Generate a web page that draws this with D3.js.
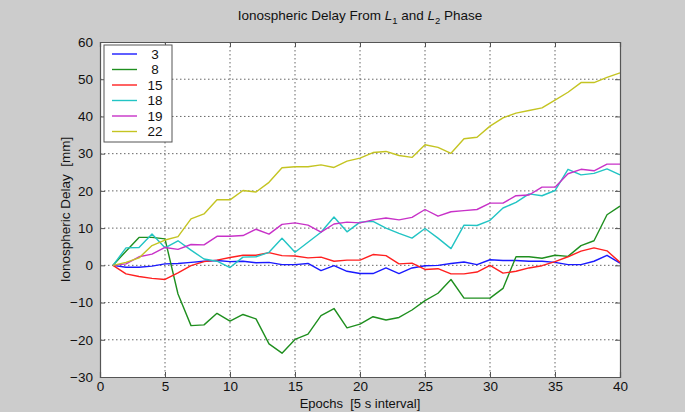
<!DOCTYPE html>
<html lang="en">
<head>
  <meta charset="UTF-8">
  <title>Ionospheric Delay From L1 and L2 Phase</title>
  <style>
    body { margin: 0; background: #cccccc; }
    text { font-family: "Liberation Sans", Arial, sans-serif; fill: #111; }
  </style>
</head>
<body>
  <svg id="chart" width="685" height="412"></svg>

  <script src="https://d3js.org/d3.v7.min.js"></script>
  <script>
    // Epoch numbers (x)
    const epochs = d3.range(1, 41)

    // Satellite ids and delays [mm]
    const satellites = ['3', '8', '15', '18', '19', '22']
    const sat3 = [0, -0.5, -0.5, -0.2, 0.4, 0.5, 0.8, 1.1, 1.3, 1, 1.1, 0.7, 0.8, 0.2, 0.2, 0.5, -1.4, -0.1, -1.6, -2.2,
      -2.2, -0.7, -2.2, -0.7, -0.1, 0, 0.5, 0.9, 0.2, 1.5, 1.3, 1.3, 1.1, 1.1, 0.8, 0.2, 0.2, 1.1, 2.7, 0.6]
    const sat8 = [0, 3.8, 7.5, 7.5, 7.1, -7.7, -16.2, -16, -12.9, -15, -13.2, -14.4, -21.1, -23.6, -19.9, -18.5, -13.5, -11.6, -16.8, -15.8,
      -13.8, -14.7, -14, -12, -9.5, -7.5, -3.8, -8.8, -8.8, -8.8, -6.2, 2.3, 2.3, 1.9, 2.7, 2.4, 5.3, 6.6, 13.6, 15.9]
    const sat15 = [0, -2.3, -3, -3.5, -3.8, -2, -0.1, 1, 1.4, 2.1, 2.7, 2.7, 3.4, 2.6, 2.5, 2, 2.2, 1.1, 1.4, 1.4,
      2.9, 2.6, 0.4, 0.6, -1.1, -0.9, -2.3, -2.3, -1.8, 0, -2.1, -1.6, -0.7, -0.1, 1, 2.3, 3.8, 4.7, 3.9, 0.8]
    const sat18 = [0, 4.7, 4.8, 8.4, 4.7, 6.6, 4.1, 1.7, 1.1, -0.6, 2.2, 2.3, 3.5, 7.3, 3.5, 6.2, 8.9, 13, 9, 11.6,
      11.8, 10, 8.6, 7.3, 9.9, 7.3, 4.5, 10.8, 10.7, 12.1, 15.4, 16.9, 19.2, 18.7, 20.1, 25.8, 24.3, 24.7, 25.9, 24.3]
    const sat19 = [0, 0.4, 2.3, 3, 4.8, 4.3, 5.6, 5.5, 7.8, 7.8, 8, 9.7, 8.4, 11, 11.4, 10.8, 8.9, 11.1, 11.6, 11.4,
      12.2, 12.7, 12.2, 12.9, 15, 13.2, 14.4, 14.7, 15, 16.7, 16.7, 18.7, 18.9, 21, 21, 24.6, 25.8, 25.4, 27.2, 27.2]
    const sat22 = [0, 0.8, 2, 5.3, 6.8, 7.7, 12.5, 13.8, 17.6, 17.6, 20.1, 19.7, 22.3, 26.2, 26.5, 26.5, 27, 26.3, 28, 28.8,
      30.3, 30.6, 29.5, 29, 32.4, 31.7, 30.1, 34, 34.4, 37.4, 39.6, 40.9, 41.6, 42.3, 44.4, 46.5, 49.1, 49.1, 50.5, 51.7]
    const seriesValues = [sat3, sat8, sat15, sat18, sat19, sat22]
    const lineColors = ['#1a1aff', '#1f8f1f', '#ff2020', '#22c4c4', '#c832c8', '#c4c422']

    const xTicks = [0, 5, 10, 15, 20, 25, 30, 35, 40]
    const yTicks = [-30, -20, -10, 0, 10, 20, 30, 40, 50, 60]

    const svg = d3.select('#chart')
    const plot = { left: 100, right: 620, top: 42, bottom: 377 }

    const x = d3.scaleLinear().domain([0, 40]).range([plot.left, plot.right])
    const y = d3.scaleLinear().domain([-30, 60]).range([plot.bottom, plot.top])

    // plot background
    svg.append('rect')
      .attr('x', plot.left).attr('y', plot.top)
      .attr('width', plot.right - plot.left).attr('height', plot.bottom - plot.top)
      .attr('fill', '#fff')

    // dotted grid
    const grid = svg.append('g').attr('stroke', '#666').attr('stroke-width', 1).attr('stroke-dasharray', '1.5,2.5')
    grid.selectAll('.gx').data(xTicks.slice(1, -1)).enter().append('line')
      .attr('x1', d => x(d)).attr('x2', d => x(d)).attr('y1', plot.top).attr('y2', plot.bottom)
    grid.selectAll('.gy').data(yTicks.slice(1, -1)).enter().append('line')
      .attr('x1', plot.left).attr('x2', plot.right).attr('y1', d => y(d)).attr('y2', d => y(d))

    // data lines
    const line = d3.line().x((d, i) => x(epochs[i])).y(d => y(d))
    svg.append('g').selectAll('path')
      .data(seriesValues).enter().append('path')
      .attr('d', d => line(d))
      .attr('fill', 'none')
      .attr('stroke', (d, i) => lineColors[i])
      .attr('stroke-width', 1.4)
      .attr('stroke-linejoin', 'round')

    // axes with inward ticks
    const bottomAxis = d3.axisBottom(x).tickValues(xTicks).tickSize(-5).tickPadding(4)
    const leftAxis = d3.axisLeft(y).tickValues(yTicks).tickSize(-5).tickPadding(7)
    const topAxis = d3.axisTop(x).tickValues(xTicks).tickSize(-5).tickFormat('')
    const rightAxis = d3.axisRight(y).tickValues(yTicks).tickSize(-5).tickFormat('')

    svg.append('g').attr('transform', `translate(0, ${plot.bottom})`).call(bottomAxis)
    svg.append('g').attr('transform', `translate(${plot.left}, 0)`).call(leftAxis)
    svg.append('g').attr('transform', `translate(0, ${plot.top})`).call(topAxis)
    svg.append('g').attr('transform', `translate(${plot.right}, 0)`).call(rightAxis)

    svg.selectAll('.domain').attr('stroke', '#555').attr('stroke-width', 1.2)
    svg.selectAll('.tick line').attr('stroke', '#555')
    svg.selectAll('.tick text').attr('font-size', 13.5).attr('fill', '#111')
      .attr('font-family', '"Liberation Sans", Arial, sans-serif')

    // title
    const title = svg.append('text')
      .attr('x', x(20)).attr('y', 20)
      .attr('text-anchor', 'middle')
      .attr('font-size', 13.5)
    title.append('tspan').text('Ionospheric Delay From ')
    title.append('tspan').attr('font-style', 'italic').text('L')
    title.append('tspan').attr('font-size', 9.5).attr('dy', 4).text('1')
    title.append('tspan').attr('dy', -4).text(' and ')
    title.append('tspan').attr('font-style', 'italic').text('L')
    title.append('tspan').attr('font-size', 9.5).attr('dy', 4).text('2')
    title.append('tspan').attr('dy', -4).text(' Phase')

    // axis labels
    svg.append('text')
      .attr('x', x(20)).attr('y', 408)
      .attr('text-anchor', 'middle')
      .attr('font-size', 13)
      .attr('xml:space', 'preserve')
      .text('Epochs  [5 s interval]')

    svg.append('text')
      .attr('transform', `translate(70, ${y(15)}) rotate(-90)`)
      .attr('text-anchor', 'middle')
      .attr('font-size', 13.5)
      .attr('xml:space', 'preserve')
      .text('Ionospheric Delay  [mm]')

    // legend
    const legend = svg.append('g').attr('transform', 'translate(104, 45)')
    legend.append('rect')
      .attr('width', 68).attr('height', 97)
      .attr('fill', '#fff').attr('stroke', '#555').attr('stroke-width', 1)
    const entries = legend.selectAll('.entry').data(satellites).enter().append('g')
      .attr('transform', (d, i) => `translate(0, ${9 + i * 15.5})`)
    entries.append('line')
      .attr('x1', 8).attr('x2', 33).attr('y1', 0).attr('y2', 0)
      .attr('stroke', (d, i) => lineColors[i]).attr('stroke-width', 1.4)
    entries.append('text')
      .attr('x', 51).attr('y', 0).attr('dy', '0.35em')
      .attr('text-anchor', 'middle')
      .attr('font-size', 13.5)
      .text(d => d)
  </script>
</body>
</html>
